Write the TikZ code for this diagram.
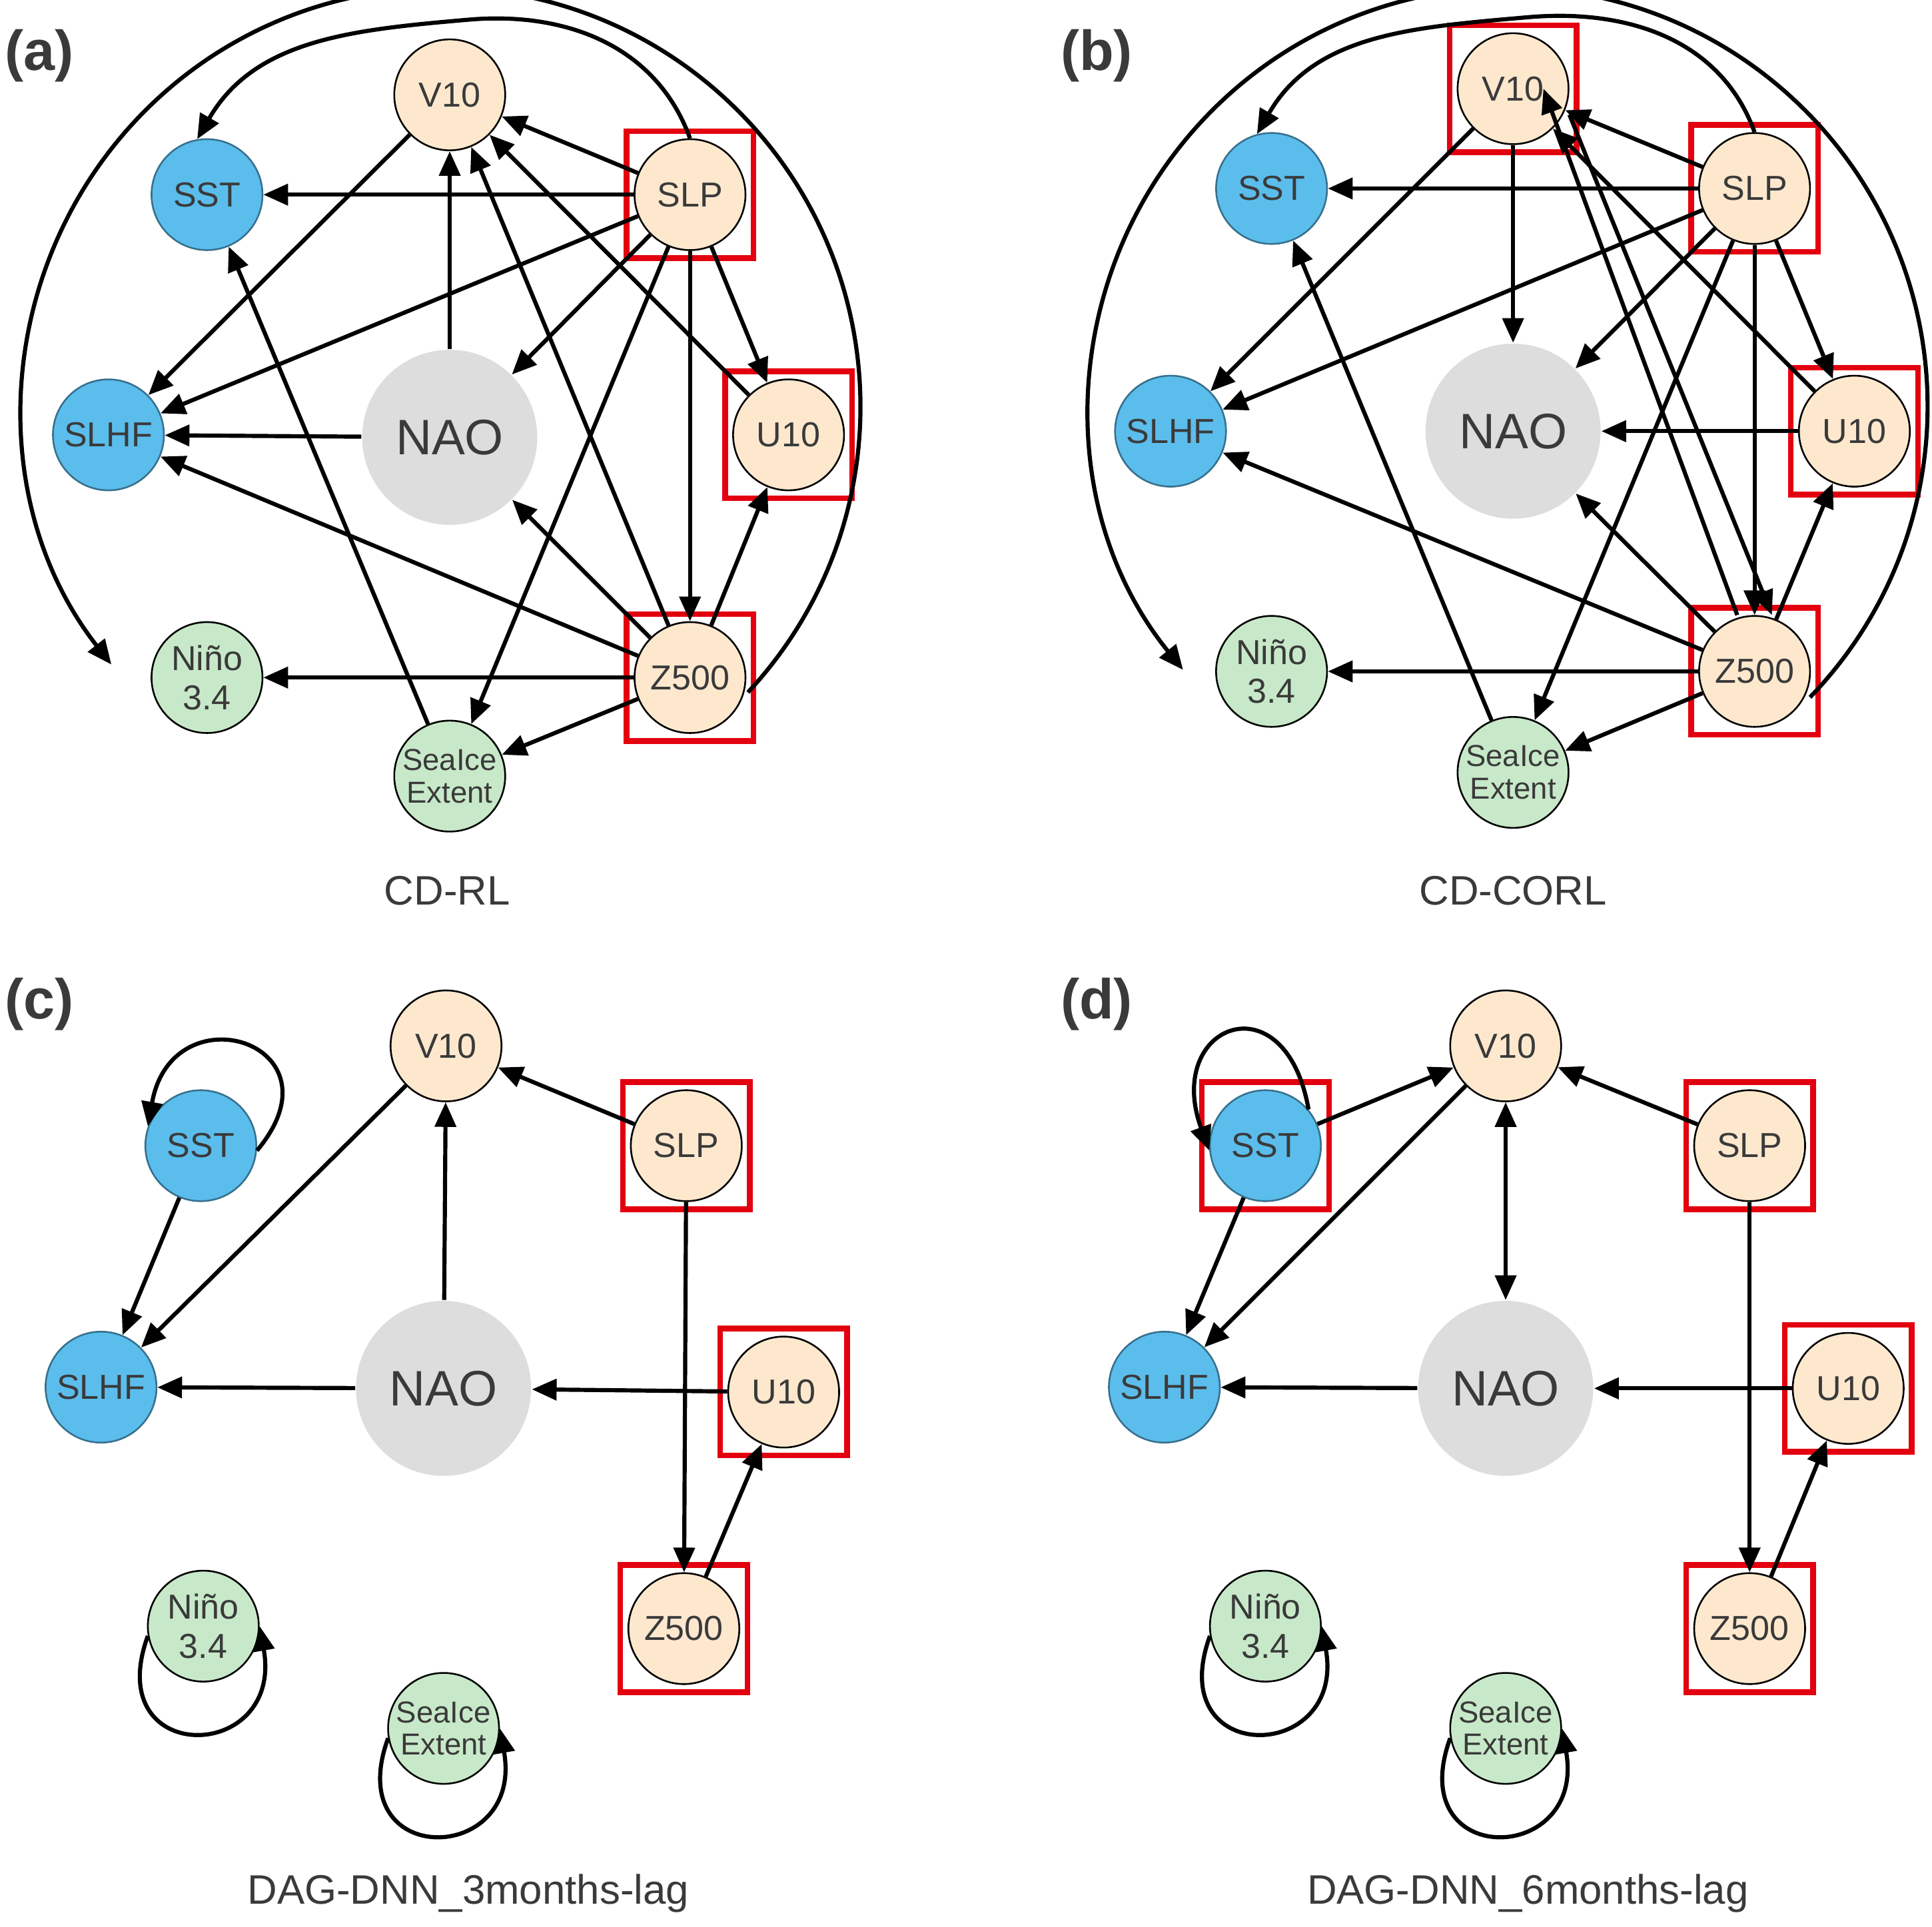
\documentclass[tikz,border=0pt]{standalone}
\usepackage{fontspec}
\setmainfont{Liberation Sans}
\usetikzlibrary{arrows.meta}
\definecolor{cora}{HTML}{FDE8CE}
\definecolor{cblu}{HTML}{5BBDEC}
\definecolor{cgrn}{HTML}{C8E9C9}
\definecolor{cgry}{HTML}{DDDDDD}
\definecolor{ctxt}{HTML}{3A3A3A}
\definecolor{cred}{HTML}{E3000F}
\begin{document}
\begin{tikzpicture}[x=0.01cm,y=0.01cm,
  nd/.style={circle,draw=black,line width=0.4pt,minimum size=0.9cm,inner sep=0pt,text=ctxt,font=\fontsize{8}{9}\selectfont,align=center},
  ora/.style={nd,fill=cora},
  blu/.style={nd,fill=cblu,draw=cblu!60!black},
  grn/.style={nd,fill=cgrn},
  sea/.style={grn,font=\fontsize{7}{7.5}\selectfont},
  nao/.style={circle,fill=cgry,minimum size=1.42cm,text=ctxt,font=\fontsize{11.5}{12}\selectfont},
  rbox/.style={draw=cred,line width=1.3pt,minimum size=1.03cm,inner sep=0pt},
  e/.style={line width=0.95pt,-{Triangle[length=0.2cm,width=0.17cm]}},
  lab/.style={font=\bfseries\fontsize{13}{14}\selectfont,text=ctxt},
  ptitle/.style={font=\fontsize{9.5}{11}\selectfont,text=ctxt}]
\useasboundingbox (0,0) rectangle (1568,-1564);
% ---------------- (a)
\node[lab] (la) at (32,-45) {(a)};
\node[ora] (aV) at (365,-77) {V10};
\node[blu] (aSST) at (168,-158) {SST};
\node[ora] (aSLP) at (560,-158) {SLP};
\node[blu] (aSLHF) at (88,-353) {SLHF};
\node[nao] (aNAO) at (365,-355) {NAO};
\node[ora] (aU) at (640,-353) {U10};
\node[grn] (aN) at (168,-550) {Niño\\3.4};
\node[ora] (aZ) at (560,-550) {Z500};
\node[sea] (aS) at (365,-630) {SeaIce\\Extent};
\node[rbox] (aB1) at (aSLP) {};
\node[rbox] (aB2) at (aU) {};
\node[rbox] (aB3) at (aZ) {};
\node[ptitle] (ca) at (363,-723) {CD-RL};
\draw[e] (aSLP) -- (aV);
\draw[e] (aU) -- (aV);
\draw[e] (aZ) -- (aV);
\draw[e] (aSLP) -- (aSST);
\draw[e] (aSLP) -- (aSLHF);
\draw[e] (aV) -- (aSLHF);
\draw[e] (aNAO) -- (aV);
\draw[e] (aNAO) -- (aSLHF);
\draw[e] (aSLP) -- (aNAO);
\draw[e] (aSLP) -- (aU);
\draw[e] (aSLP) -- (aZ);
\draw[e] (aSLP) -- (aS);
\draw[e] (aS) -- (aSST);
\draw[e] (aZ) -- (aSLHF);
\draw[e] (aZ) -- (aNAO);
\draw[e] (aZ) -- (aU);
\draw[e] (aZ) -- (aN);
\draw[e] (aZ) -- (aS);
\coordinate (aArc) at (607,-562);
\draw[e] (aArc) arc[start angle=-43,end angle=218,radius=340];
\draw[e] (aSLP.north) to[out=110,in=5] (380,-16) to[out=185,in=60] (aSST.100);
% ---------------- (b)
\node[lab] (lb) at (890,-45) {(b)};
\node[ora] (bV) at (1228,-72) {V10};
\node[blu] (bSST) at (1032,-153) {SST};
\node[ora] (bSLP) at (1424,-153) {SLP};
\node[blu] (bSLHF) at (950,-350) {SLHF};
\node[nao] (bNAO) at (1228,-350) {NAO};
\node[ora] (bU) at (1505,-350) {U10};
\node[grn] (bN) at (1032,-545) {Niño\\3.4};
\node[ora] (bZ) at (1424,-545) {Z500};
\node[sea] (bS) at (1228,-627) {SeaIce\\Extent};
\node[rbox] (bB0) at (bV) {};
\node[rbox] (bB1) at (bSLP) {};
\node[rbox] (bB2) at (bU) {};
\node[rbox] (bB3) at (bZ) {};
\node[ptitle] (cb) at (1228,-723) {CD-CORL};
\draw[e] (bSLP) -- (bV);
\draw[e] (bU) -- (bV);
\draw[e] ([xshift=-4]bZ.north) -- ([xshift=-6]bV.east);
\draw[e] ([yshift=-6]bV.east) -- ([xshift=4]bZ.north);
\draw[e] (bV) -- (bNAO);
\draw[e] (bV) -- (bSLHF);
\draw[e] (bSLP) -- (bSST);
\draw[e] (bSLP) -- (bSLHF);
\draw[e] (bSLP) -- (bNAO);
\draw[e] (bSLP) -- (bU);
\draw[e] (bSLP) -- (bZ);
\draw[e] (bSLP) -- (bS);
\draw[e] (bU) -- (bNAO);
\draw[e] (bS) -- (bSST);
\draw[e] (bZ) -- (bSLHF);
\draw[e] (bZ) -- (bNAO);
\draw[e] (bZ) -- (bU);
\draw[e] (bZ) -- (bN);
\draw[e] (bZ) -- (bS);
\coordinate (bArc) at (1469,-566);
\draw[e] (bArc) arc[start angle=-44,end angle=219,radius=340];
\draw[e] (bSLP.north) to[out=110,in=5] (1240,-14) to[out=185,in=60] (bSST.105);
% ---------------- (c)
\node[lab] (lc) at (32,-815) {(c)};
\node[ora] (cV) at (362,-849) {V10};
\node[blu] (cSST) at (163,-930) {SST};
\node[ora] (cSLP) at (557,-930) {SLP};
\node[blu] (cSLHF) at (82,-1126) {SLHF};
\node[nao] (cNAO) at (360,-1127) {NAO};
\node[ora] (cU) at (636,-1130) {U10};
\node[grn] (cN) at (165,-1320) {Niño\\3.4};
\node[ora] (cZ) at (555,-1322) {Z500};
\node[sea] (cS) at (360,-1403) {SeaIce\\Extent};
\node[rbox] (cB1) at (cSLP) {};
\node[rbox] (cB2) at (cU) {};
\node[rbox] (cB3) at (cZ) {};
\node[ptitle] (cc) at (380,-1537) {DAG-DNN\_3months-lag};
\draw[e] (cSLP) -- (cV);
\draw[e] (cV) -- (cSLHF);
\draw[e] (cNAO) -- (cV);
\draw[e] (cSST) -- (cSLHF);
\draw[e] (cNAO) -- (cSLHF);
\draw[e] (cU) -- (cNAO);
\draw[e] (cSLP) -- (cZ);
\draw[e] (cZ) -- (cU);
\draw[e] (cSST.-5) to[out=50,in=80,looseness=3.2] (cSST.160);
\draw[e] (cN.190) to[out=-110,in=-80,looseness=3.2] (cN.0);
\draw[e] (cS.190) to[out=-110,in=-80,looseness=3.2] (cS.0);
% ---------------- (d)
\node[lab] (ld) at (890,-815) {(d)};
\node[ora] (dV) at (1222,-849) {V10};
\node[blu] (dSST) at (1027,-930) {SST};
\node[ora] (dSLP) at (1420,-930) {SLP};
\node[blu] (dSLHF) at (945,-1126) {SLHF};
\node[nao] (dNAO) at (1222,-1127) {NAO};
\node[ora] (dU) at (1500,-1127) {U10};
\node[grn] (dN) at (1027,-1320) {Niño\\3.4};
\node[ora] (dZ) at (1420,-1322) {Z500};
\node[sea] (dS) at (1222,-1403) {SeaIce\\Extent};
\node[rbox] (dB0) at (dSST) {};
\node[rbox] (dB1) at (dSLP) {};
\node[rbox] (dB2) at (dU) {};
\node[rbox] (dB3) at (dZ) {};
\node[ptitle] (cd) at (1240,-1537) {DAG-DNN\_6months-lag};
\draw[e] (dSST) -- (dV);
\draw[e] (dSLP) -- (dV);
\draw[e] (dV) -- (dSLHF);
\draw[e,{Triangle[length=0.2cm,width=0.17cm]}-{Triangle[length=0.2cm,width=0.17cm]}] (dV) -- (dNAO);
\draw[e] (dSST) -- (dSLHF);
\draw[e] (dNAO) -- (dSLHF);
\draw[e] (dU) -- (dNAO);
\draw[e] (dSLP) -- (dZ);
\draw[e] (dZ) -- (dU);
\draw[e] (dSST.40) to[out=100,in=110,looseness=3.2] (dSST.185);
\draw[e] (dN.190) to[out=-110,in=-80,looseness=3.2] (dN.0);
\draw[e] (dS.190) to[out=-110,in=-80,looseness=3.2] (dS.0);
\end{tikzpicture}
\end{document}
